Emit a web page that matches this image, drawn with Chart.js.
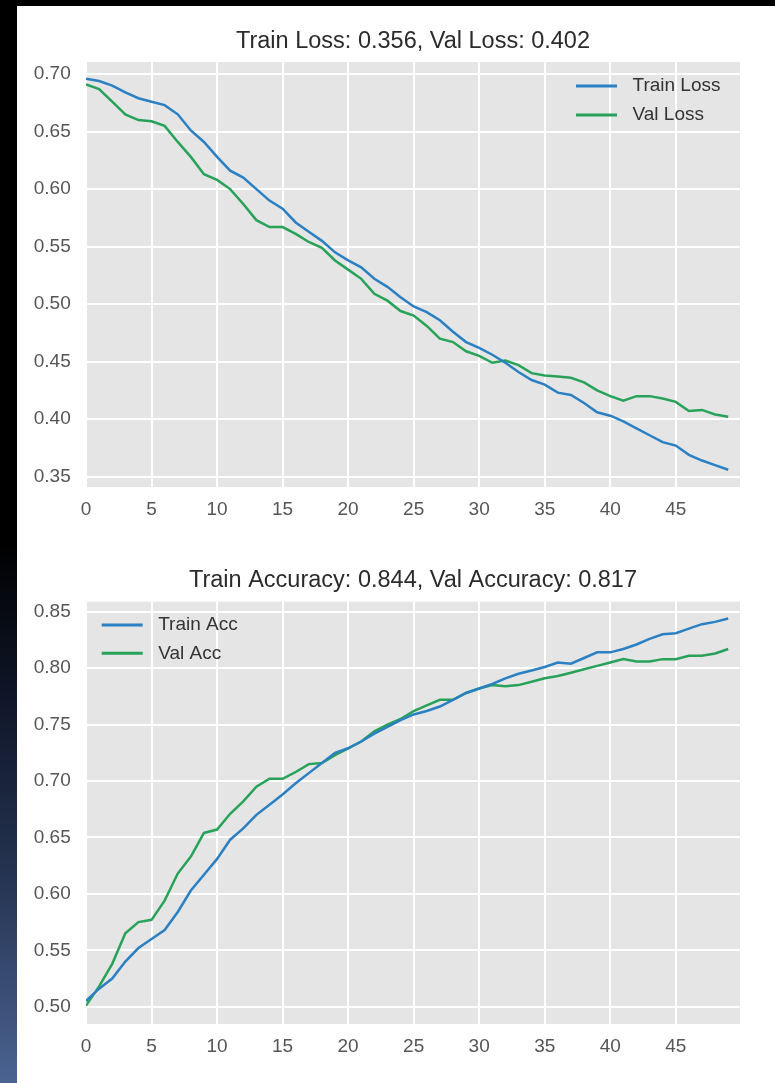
<!DOCTYPE html>
<html>
<head>
<meta charset="utf-8">
<script src="https://cdn.jsdelivr.net/npm/chart.js@4.4.1/dist/chart.umd.min.js"></script>
<style>
  html, body { margin: 0; padding: 0; }
  body {
    width: 775px; height: 1083px; position: relative; overflow: hidden;
    background: linear-gradient(to bottom, #000 0%, #000 50%, #10172a 65%, #24324f 80%, #4a6391 100%);
  }
  #paper { position: absolute; left: 17px; top: 6px; right: 0; bottom: 0; background: #fff; }
  canvas { position: absolute; left: 0; }
  #lossChart { top: 0; }
  #accChart { top: 540px; }
</style>
</head>
<body>
<div id="paper"></div>
<canvas id="lossChart" width="775" height="540"></canvas>
<canvas id="accChart" width="775" height="543"></canvas>
<script>
// epochs on the x axis
const epochs = [0, 1, 2, 3, 4, 5, 6, 7, 8, 9, 10, 11, 12, 13, 14, 15, 16, 17, 18, 19,
  20, 21, 22, 23, 24, 25, 26, 27, 28, 29, 30, 31, 32, 33, 34, 35, 36, 37, 38, 39,
  40, 41, 42, 43, 44, 45, 46, 47, 48, 49];

// loss values
const trainLoss = [0.696, 0.694, 0.690, 0.684, 0.679, 0.676, 0.673, 0.665, 0.651, 0.641,
  0.628, 0.616, 0.610, 0.600, 0.590, 0.583, 0.571, 0.563, 0.555, 0.545,
  0.538, 0.532, 0.522, 0.515, 0.506, 0.498, 0.493, 0.486, 0.476, 0.467,
  0.462, 0.456, 0.449, 0.441, 0.434, 0.430, 0.423, 0.421, 0.414, 0.406,
  0.403, 0.398, 0.392, 0.386, 0.380, 0.377, 0.369, 0.364, 0.360, 0.356];
const valLoss = [0.691, 0.687, 0.676, 0.665, 0.660, 0.659, 0.655, 0.641, 0.628, 0.613,
  0.608, 0.600, 0.587, 0.573, 0.567, 0.567, 0.561, 0.554, 0.549, 0.538,
  0.530, 0.522, 0.509, 0.503, 0.494, 0.490, 0.481, 0.470, 0.467, 0.459,
  0.455, 0.449, 0.451, 0.447, 0.440, 0.438, 0.437, 0.436, 0.432, 0.425,
  0.420, 0.416, 0.420, 0.420, 0.418, 0.415, 0.407, 0.408, 0.404, 0.402];

// accuracy values
const trainAcc = [0.505, 0.516, 0.525, 0.540, 0.552, 0.560, 0.568, 0.584, 0.603, 0.617,
  0.631, 0.648, 0.658, 0.670, 0.679, 0.688, 0.698, 0.707, 0.716, 0.725,
  0.729, 0.735, 0.742, 0.748, 0.754, 0.759, 0.762, 0.766, 0.772, 0.778,
  0.782, 0.786, 0.791, 0.795, 0.798, 0.801, 0.805, 0.804, 0.809, 0.814,
  0.814, 0.817, 0.821, 0.826, 0.830, 0.831, 0.835, 0.839, 0.841, 0.844];
const valAcc = [0.501, 0.518, 0.538, 0.565, 0.575, 0.577, 0.594, 0.618, 0.633, 0.654,
  0.657, 0.671, 0.682, 0.695, 0.702, 0.702, 0.708, 0.715, 0.716, 0.723,
  0.729, 0.735, 0.744, 0.750, 0.755, 0.762, 0.767, 0.772, 0.772, 0.778,
  0.782, 0.785, 0.784, 0.785, 0.788, 0.791, 0.793, 0.796, 0.799, 0.802,
  0.805, 0.808, 0.806, 0.806, 0.808, 0.808, 0.811, 0.811, 0.813, 0.817];

const FONT = '"Liberation Sans", Arial, sans-serif';
const BLUE = '#2a80c2';
const GREEN = '#27a258';

// grey panel behind the plot
const panelBackground = {
  id: 'panelBackground',
  beforeDraw(chart) {
    const { ctx, chartArea: a } = chart;
    ctx.save();
    ctx.fillStyle = '#e5e5e5';
    ctx.fillRect(a.left, a.top, a.right - a.left, a.bottom - a.top);
    ctx.restore();
  }
};

// legend drawn inside the plot area
const insideLegend = {
  id: 'insideLegend',
  afterDatasetsDraw(chart, args, opts) {
    const { ctx, chartArea: a } = chart;
    ctx.save();
    ctx.font = '19px ' + FONT;
    ctx.textBaseline = 'middle';
    ctx.textAlign = 'left';
    chart.data.datasets.forEach((ds, i) => {
      const x = a.left + opts.left;
      const y = a.top + opts.top + i * opts.rowGap;
      ctx.strokeStyle = ds.borderColor;
      ctx.lineWidth = 3;
      ctx.beginPath();
      ctx.moveTo(x, y);
      ctx.lineTo(x + 41, y);
      ctx.stroke();
      ctx.fillStyle = '#333';
      ctx.fillText(ds.label, x + 56.5, y);
    });
    ctx.restore();
  }
};

function series(values) {
  return values.map((v, i) => ({ x: epochs[i], y: v }));
}

function makeConfig(o) {
  return {
    type: 'line',
    data: {
      datasets: [
        { label: o.labels[0], data: series(o.first), borderColor: BLUE, backgroundColor: BLUE,
          borderWidth: 2.5, pointRadius: 0, tension: 0, fill: false },
        { label: o.labels[1], data: series(o.second), borderColor: GREEN, backgroundColor: GREEN,
          borderWidth: 2.5, pointRadius: 0, tension: 0, fill: false },
      ],
    },
    options: {
      responsive: false,
      animation: false,
      events: [],
      layout: { padding: { top: o.padTop, right: 35, bottom: 0, left: 0 } },
      plugins: {
        legend: { display: false },
        tooltip: { enabled: false },
        title: {
          display: true,
          fullSize: false,
          text: o.title,
          color: '#2b2b2b',
          font: { family: FONT, size: 23.5, weight: 'normal', lineHeight: 1.2 },
          padding: { top: 8, bottom: o.titleBottom },
        },
        insideLegend: o.legend,
      },
      scales: {
        x: {
          type: 'linear',
          min: 0,
          max: 49.9,
          border: { display: false },
          grid: { color: '#ffffff', lineWidth: 2, drawTicks: false },
          ticks: { stepSize: 5, includeBounds: false, padding: 11.3, color: '#555',
            font: { family: FONT, size: 19 } },
          afterFit: (s) => { s.height = o.xHeight; },
        },
        y: {
          min: o.yMin,
          max: o.yMax,
          border: { display: false },
          grid: { color: '#ffffff', lineWidth: 2, drawTicks: false },
          ticks: { stepSize: 0.05, includeBounds: false, padding: 15.3, color: '#555',
            font: { family: FONT, size: 19 },
            callback: (v) => v.toFixed(2) },
          afterFit: (s) => { s.width = 86; },
        },
      },
    },
    plugins: [panelBackground, insideLegend],
  };
}

// loss chart
new Chart(document.getElementById('lossChart'), makeConfig({
  title: 'Train Loss: 0.356, Val Loss: 0.402',
  labels: ['Train Loss', 'Val Loss'],
  first: trainLoss,
  second: valLoss,
  yMin: 0.3410,
  yMax: 0.7105,
  padTop: 19.2,
  titleBottom: 6.6,
  xHeight: 53,
  legend: { left: 490, top: 24, rowGap: 29 },
}));

// accuracy chart
new Chart(document.getElementById('accChart'), makeConfig({
  title: 'Train Accuracy: 0.844, Val Accuracy: 0.817',
  labels: ['Train Acc', 'Val Acc'],
  first: trainAcc,
  second: valAcc,
  yMin: 0.4847,
  yMax: 0.8589,
  padTop: 18.3,
  titleBottom: 7.2,
  xHeight: 59,
  legend: { left: 15.7, top: 23.3, rowGap: 28.3 },
}));
</script>
</body>
</html>
